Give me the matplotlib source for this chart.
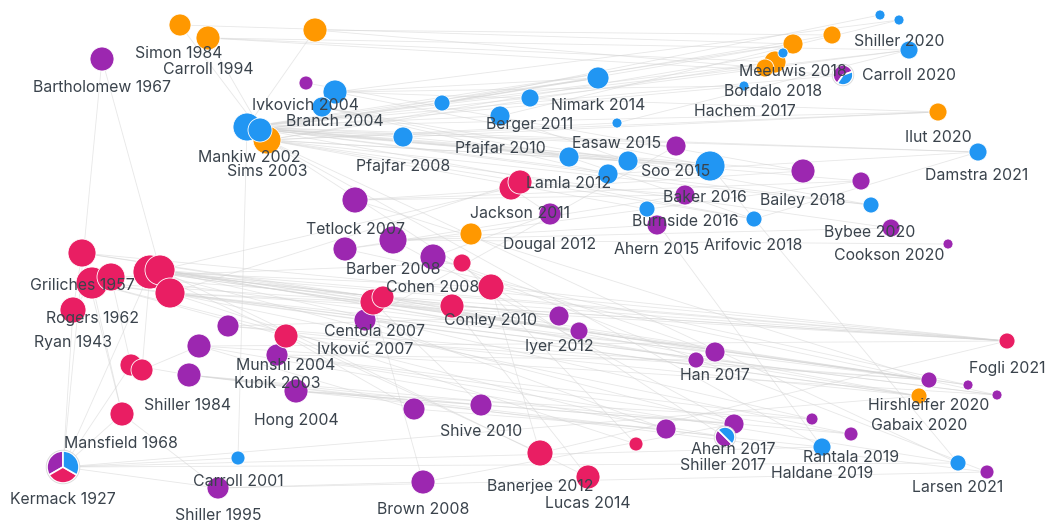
import matplotlib
matplotlib.use('Agg')
import matplotlib.pyplot as plt
from matplotlib.patches import Circle, Wedge

# ---------- node layout (x, y in layout pixels), radius and group ----------
node_x = [180, 208, 315, 267, 471, 832, 793, 775, 765, 938, 919,
          335, 322, 247, 260, 403, 442, 500, 530, 598, 617, 569, 628, 608, 710, 647, 754,
          880, 899, 783, 744, 909, 978, 871, 238, 822, 958,
          102, 306, 355, 345, 393, 433, 550, 676, 685, 657, 803, 861, 891, 948,
          365, 228, 199, 189, 277, 296, 218, 559, 579, 414, 481, 423, 666, 696, 715,
          734, 812, 851, 929, 968, 997, 987,
          82, 92, 111, 150, 160, 170, 73, 131, 142, 122, 286, 373, 383, 462, 491, 452,
          511, 520, 540, 588, 636, 1007]
node_y = [25, 38, 30, 140, 234, 35, 44, 62, 68, 112, 396,
          92, 107, 127, 130, 137, 103, 116, 98, 78, 123, 157, 161, 174, 166, 209, 219,
          15, 20, 53, 86, 50, 152, 205, 458, 447, 463,
          59, 83, 200, 249, 240, 257, 214, 146, 195, 225, 171, 181, 228, 244,
          320, 326, 346, 375, 355, 391, 488, 316, 331, 409, 405, 482, 429, 360, 352,
          424, 419, 434, 380, 385, 395, 472,
          253, 283, 277, 272, 270, 293, 310, 365, 370, 414, 336, 302, 297, 263, 287, 306,
          188, 182, 453, 477, 444, 341]
node_r = [11, 12, 12, 14, 11, 9, 10, 11, 9, 9, 8,
          12, 10, 14, 12, 10, 8, 10, 9, 11, 5, 10, 10, 10, 15, 8, 8,
          5, 5, 5, 5, 9, 9, 8, 7, 9, 8,
          12, 7, 13, 12, 14, 13, 11, 10, 10, 10, 12, 9, 9, 5,
          11, 11, 12, 12, 11, 12, 11, 10, 9, 11, 11, 12, 10, 8, 10,
          10, 6, 7, 8, 5, 5, 7,
          14, 16, 14, 17, 15, 15, 13, 11, 11, 12, 12, 13, 11, 9, 13, 12,
          12, 12, 13, 12, 7, 8]
node_group = (['macro'] * 11 + ['news'] * 26 + ['finance'] * 36 + ['diffusion'] * 22)

# nodes that belong to several groups (drawn as pies)
pie_x = [63, 843, 725]
pie_y = [467, 75, 437]
pie_r = [16, 10, 10]
pie_groups = [['finance', 'diffusion', 'news'], ['finance', 'news'], ['finance', 'news']]
pie_shares = [[1, 1, 1], [0.6, 0.4], [0.5, 0.5]]
pie_start = [90, 20, 135]

# citation links (indices: nodes first, then pies 95, 96, 97)
edges = [
    (73, 94), (74, 94), (76, 94), (77, 94), (78, 94), (75, 69), (76, 69), (77, 10),
    (78, 10), (74, 71), (76, 70), (77, 67), (78, 68), (76, 66), (77, 64), (78, 65),
    (74, 63), (73, 65), (76, 87), (77, 88), (78, 84), (76, 85), (74, 83), (75, 86),
    (77, 89), (78, 90), (76, 91), (77, 92), (78, 93), (73, 79), (74, 79), (75, 80),
    (76, 81), (74, 82), (73, 82), (79, 95), (80, 95), (82, 95), (76, 95), (37, 77),
    (37, 95), (75, 94), (73, 69), (74, 10), (78, 71), (77, 70), (76, 58), (77, 59),
    (13, 19), (13, 24), (13, 31), (13, 96), (13, 6), (13, 7), (13, 9), (13, 32),
    (13, 22), (13, 23), (13, 21), (13, 17), (13, 18), (13, 15), (13, 26), (13, 47),
    (13, 44), (14, 24), (14, 19), (14, 30), (14, 5), (3, 24), (3, 22), (3, 29),
    (3, 7), (3, 9), (3, 33), (3, 36), (3, 35), (3, 25), (3, 20), (3, 97),
    (11, 24), (11, 19), (11, 28), (12, 22), (12, 21), (12, 23), (0, 6), (1, 31),
    (1, 96), (1, 7), (2, 8), (2, 5), (0, 3), (1, 3), (2, 13), (11, 30),
    (13, 34), (38, 47), (14, 48), (3, 49), (13, 33), (14, 32), (3, 26), (11, 9),
    (39, 47), (39, 48), (40, 45), (41, 46), (42, 43), (41, 49), (39, 69), (40, 70),
    (41, 66), (42, 65), (51, 63), (55, 64), (56, 61), (53, 60), (54, 61), (52, 58),
    (57, 62), (56, 67), (55, 68), (54, 72), (53, 71), (52, 69), (51, 44), (60, 63),
    (61, 66), (62, 66), (57, 72), (53, 97), (54, 97), (56, 35), (55, 36), (42, 72),
    (41, 50), (40, 48), (39, 45), (52, 10), (53, 94), (54, 68), (55, 67), (56, 66),
    (15, 24), (16, 19), (17, 22), (18, 31), (21, 26), (22, 33), (23, 32), (24, 36),
    (25, 35), (26, 32), (20, 31), (16, 27), (17, 28), (15, 9), (16, 6),
    (84, 61), (85, 58), (87, 91), (88, 92), (86, 93), (83, 60), (84, 62), (89, 43),
    (90, 45), (87, 94), (88, 94), (91, 94), (83, 69), (84, 69), (85, 10), (87, 71),
    (95, 34), (95, 36), (95, 35), (95, 57), (95, 10), (82, 57), (80, 54), (81, 53),
]

# ---------- labels ----------
label_text = ['Simon 1984', 'Carroll 1994', 'Bartholomew 1967', 'Ivkovich 2004', 'Branch 2004',
              'Mankiw 2002', 'Sims 2003', 'Pfajfar 2008', 'Nimark 2014', 'Berger 2011',
              'Pfajfar 2010', 'Easaw 2015', 'Lamla 2012', 'Soo 2015', 'Baker 2016',
              'Burnside 2016', 'Ahern 2015', 'Jackson 2011', 'Dougal 2012', 'Arifovic 2018',
              'Shiller 2020', 'Carroll 2020', 'Meeuwis 2018', 'Bordalo 2018', 'Hachem 2017',
              'Ilut 2020', 'Damstra 2021', 'Bailey 2018', 'Bybee 2020', 'Cookson 2020',
              'Tetlock 2007', 'Barber 2008', 'Cohen 2008', 'Centola 2007', 'Ivković 2007',
              'Conley 2010', 'Iyer 2012', 'Griliches 1957', 'Rogers 1962', 'Ryan 1943',
              'Munshi 2004', 'Kubik 2003', 'Shiller 1984', 'Hong 2004', 'Mansfield 1968',
              'Kermack 1927', 'Carroll 2001', 'Shiller 1995', 'Shive 2010', 'Banerjee 2012',
              'Lucas 2014', 'Brown 2008', 'Han 2017', 'Ahern 2017', 'Shiller 2017',
              'Rantala 2019', 'Haldane 2019', 'Fogli 2021', 'Hirshleifer 2020', 'Gabaix 2020',
              'Larsen 2021']
label_x = [179, 208, 102, 305, 335, 249, 267, 403, 598, 530,
           500, 617, 569, 676, 705, 685, 657, 520, 550, 753,
           899, 909, 793, 773, 745, 938, 977, 803, 870, 889,
           355, 393, 433, 374, 365, 491, 559, 82, 92, 73,
           286, 277, 188, 296, 121, 63, 238, 218, 481, 540,
           588, 423, 715, 733, 723, 851, 822, 1007, 929, 919,
           958]
label_y = [53, 69, 88, 106, 121, 157, 172, 166, 106, 125,
           148, 143, 183, 172, 197, 222, 250, 213, 245, 245,
           42, 75, 71, 92, 111, 137, 175, 201, 232, 255,
           230, 269, 288, 332, 349, 321, 346, 285, 318, 343,
           365, 383, 405, 420, 443, 500, 482, 515, 432, 486,
           503, 509, 375, 450, 466, 457, 473, 369, 405, 426,
           487]

colors = {'macro': '#FF9800', 'news': '#2196F3', 'finance': '#9C27B0', 'diffusion': '#E91E63'}

########## Plotting ##########

fig = plt.figure(figsize=(10.46, 5.27), dpi=100)
ax = fig.add_axes([0, 0, 1, 1])
ax.set_xlim(0, 1046)
ax.set_ylim(527, 0)
ax.set_aspect('equal')
ax.axis('off')

all_x = node_x + pie_x
all_y = node_y + pie_y

# edges
for a, b in edges:
    ax.plot([all_x[a], all_x[b]], [all_y[a], all_y[b]], color='#d4d4d4',
            lw=0.6, alpha=0.55, zorder=1, solid_capstyle='round')

# nodes
for x, y, r, g in zip(node_x, node_y, node_r, node_group):
    ax.add_patch(Circle((x, y), r, facecolor=colors[g], edgecolor='white', lw=0.6, zorder=2))

# pie nodes
for x, y, r, groups, shares, start in zip(pie_x, pie_y, pie_r, pie_groups, pie_shares, pie_start):
    total = float(sum(shares))
    theta = start
    for g, s in zip(groups, shares):
        span = 360.0 * s / total
        # y-axis is inverted, so angles go clockwise on screen
        ax.add_patch(Wedge((x, y), r, -theta - span, -theta, facecolor=colors[g],
                           edgecolor='white', lw=1.2, zorder=3))
        theta += span
    ax.add_patch(Circle((x, y), r + 0.8, facecolor='none', edgecolor='#d8d8d8', lw=0.6, zorder=3))

# labels
for t, x, y in zip(label_text, label_x, label_y):
    ax.text(x, y, t, ha='center', va='center', fontsize=11.4, color='#3a434c',
            family=['Inter', 'DejaVu Sans'], zorder=4)

plt.savefig('out.png', dpi=100, facecolor='white')
